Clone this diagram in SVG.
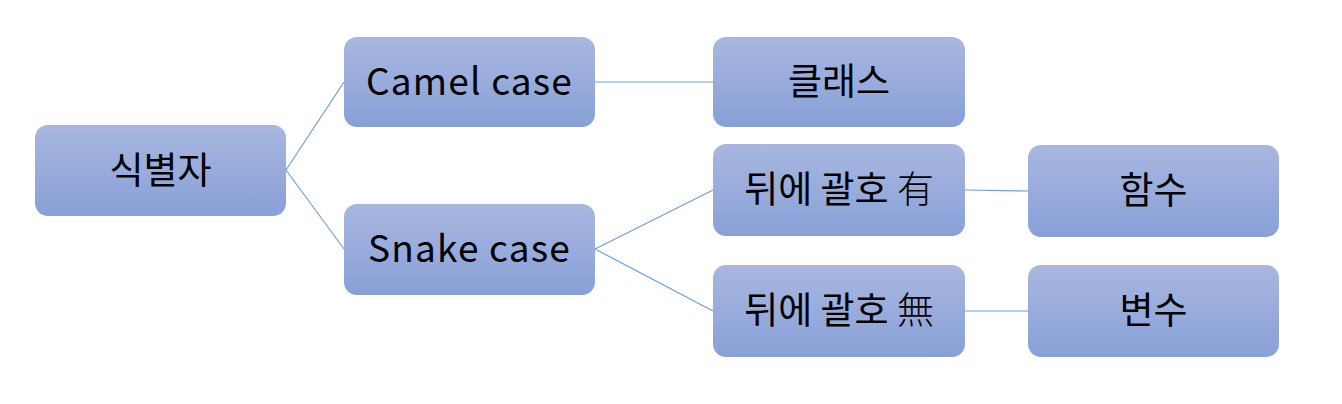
<svg xmlns="http://www.w3.org/2000/svg" width="1342" height="404" viewBox="0 0 1342 404">
<defs>
<linearGradient id="g" x1="0" y1="0" x2="0" y2="1">
<stop offset="0" stop-color="#A9B7E0"/>
<stop offset="1" stop-color="#88A0D7"/>
</linearGradient>
<style>
.box{fill:url(#g);}
.t{font-family:"Noto Sans CJK KR","Noto Sans",sans-serif;font-size:37px;fill:#000;text-anchor:middle;dominant-baseline:central;}
.l{letter-spacing:1.2px;}
.h{font-weight:300;}
.c{stroke:#6A9FDC;stroke-width:1.2;fill:none;}
</style>
</defs>
<rect width="1342" height="404" fill="#fff"/>
<g id="connectors">
<line class="c" x1="286" y1="170" x2="344" y2="82"/>
<line class="c" x1="286" y1="170" x2="344" y2="249"/>
<line class="c" x1="595" y1="82" x2="713" y2="82"/>
<line class="c" x1="595" y1="249" x2="713" y2="190"/>
<line class="c" x1="595" y1="249" x2="713" y2="311"/>
<line class="c" x1="965" y1="190" x2="1028" y2="191"/>
<line class="c" x1="965" y1="311" x2="1028" y2="311"/>
</g>
<g id="n1"><rect class="box" x="35" y="125" width="251" height="91" rx="13"/><text class="t" x="160.5" y="168">식별자</text></g>
<g id="n2"><rect class="box" x="344" y="37" width="251" height="90" rx="13"/><text class="t l" x="469.5" y="79">Camel case</text></g>
<g id="n3"><rect class="box" x="344" y="204" width="251" height="91" rx="13"/><text class="t l" x="469.5" y="246">Snake case</text></g>
<g id="n4"><rect class="box" x="713" y="37" width="252" height="90" rx="13"/><text class="t" x="839" y="79">클래스</text></g>
<g id="n5"><rect class="box" x="713" y="144" width="252" height="92" rx="13"/><text class="t" x="839" y="187">뒤에 괄호 <tspan class="h">有</tspan></text></g>
<g id="n6"><rect class="box" x="713" y="265" width="252" height="92" rx="13"/><text class="t" x="839" y="308">뒤에 괄호 <tspan class="h">無</tspan></text></g>
<g id="n7"><rect class="box" x="1028" y="145" width="251" height="92" rx="13"/><text class="t" x="1153.5" y="188">함수</text></g>
<g id="n8"><rect class="box" x="1028" y="265" width="251" height="92" rx="13"/><text class="t" x="1153.5" y="308">변수</text></g>
</svg>
